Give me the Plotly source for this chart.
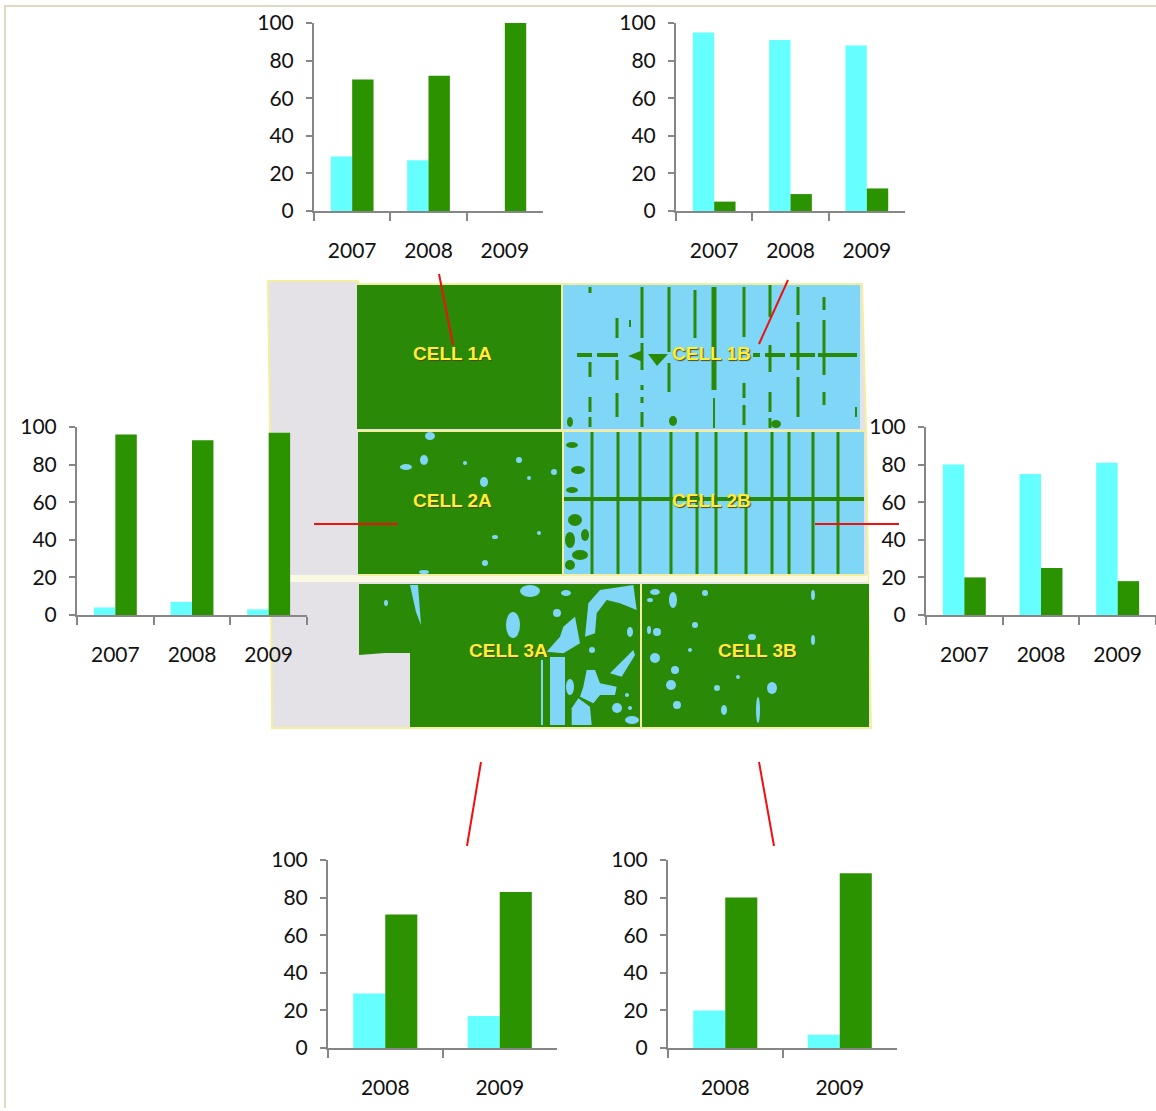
import plotly.graph_objects as go

W, H = 1156, 1111

years3 = ["2007", "2008", "2009"]
years2 = ["2008", "2009"]
tick_vals = [0, 20, 40, 60, 80, 100]

c1a_water = [29, 27, 0]
c1a_veg = [70, 72, 100]
c1b_water = [95, 91, 88]
c1b_veg = [5, 9, 12]
c2a_water = [4, 7, 3]
c2a_veg = [96, 93, 97]
c2b_water = [80, 75, 81]
c2b_veg = [20, 25, 18]
c3a_water = [29, 17]
c3a_veg = [71, 83]
c3b_water = [20, 7]
c3b_veg = [80, 93]

CYAN = "#66ffff"
GREEN = "#2b9200"
AXIS = "#868686"
MAP_GREEN = "#2a8a08"
MAP_BLUE = "#80d6f7"
MAP_GRAY = "#e4e2e6"
EDGE = "#f3eea0"
FONT = "Lato, Carlito, sans-serif"


def px(x):
    return x / W


def py(y):
    return 1 - y / H


panels = [
    (years3, c1a_water, c1a_veg, 314, 543, 23, 211),
    (years3, c1b_water, c1b_veg, 676, 905, 23, 211),
    (years3, c2a_water, c2a_veg, 77, 307, 427, 615),
    (years3, c2b_water, c2b_veg, 926, 1156, 427, 615),
    (years2, c3a_water, c3a_veg, 328, 557, 860, 1048),
    (years2, c3b_water, c3b_veg, 668, 897, 860, 1048),
]

fig = go.Figure()
layout = dict(
    width=W, height=H, margin=dict(l=0, r=0, t=0, b=0, pad=0, autoexpand=False),
    paper_bgcolor="white", plot_bgcolor="rgba(0,0,0,0)", showlegend=False,
    bargap=0.44, bargroupgap=0, barmode="group",
    font=dict(family=FONT, size=21, color="#111111"),
)
for i, (cats, water, veg, x0, x1, y0, y1) in enumerate(panels, start=1):
    xa, ya = f"x{i}", f"y{i}"
    fig.add_trace(go.Bar(x=cats, y=water, name="Water", marker=dict(color=CYAN, line_width=0), xaxis=xa, yaxis=ya))
    fig.add_trace(go.Bar(x=cats, y=veg, name="Vegetation", marker=dict(color=GREEN, line_width=0), xaxis=xa, yaxis=ya))
    layout[f"xaxis{i}"] = dict(
        domain=[px(x0), px(x1)], anchor=ya, type="category", tickson="boundaries",
        ticks="outside", ticklen=8, tickcolor=AXIS, tickwidth=2, showline=True,
        linecolor=AXIS, linewidth=2, showgrid=False, zeroline=False,
        ticklabelstandoff=20, tickfont=dict(family=FONT, size=21, color="#111111"),
    )
    layout[f"yaxis{i}"] = dict(
        domain=[py(y1), py(y0)], anchor=xa, range=[0, 100], tickvals=tick_vals,
        ticks="outside", ticklen=6, tickcolor=AXIS, tickwidth=2, showline=True,
        linecolor=AXIS, linewidth=2, showgrid=False, zeroline=False,
        ticklabelstandoff=8, tickfont=dict(family=FONT, size=21, color="#111111"),
    )

shapes = []


def rect(x0, y0, x1, y1, color, layer="below"):
    shapes.append(dict(type="rect", xref="paper", yref="paper", x0=px(x0), x1=px(x1),
                       y0=py(y1), y1=py(y0), fillcolor=color, line_width=0, layer=layer))


def poly(points, color, line=None, layer="below"):
    d = "M " + " L ".join(f"{px(x):.5f},{py(y):.5f}" for x, y in points) + " Z"
    shapes.append(dict(type="path", path=d, xref="paper", yref="paper", fillcolor=color,
                       line=dict(width=2 if line else 0, color=line or color), layer=layer))


def blob(x, y, rx, ry, color=MAP_BLUE):
    shapes.append(dict(type="circle", xref="paper", yref="paper", x0=px(x - rx), x1=px(x + rx),
                       y0=py(y + ry), y1=py(y - ry), fillcolor=color, line_width=0, layer="below"))


def line(x0, y0, x1, y1, color, width):
    shapes.append(dict(type="line", xref="paper", yref="paper", x0=px(x0), x1=px(x1),
                       y0=py(y0), y1=py(y1), line=dict(color=color, width=width), layer="above"))


# page frame
rect(5, 5, W, 7, "#ddd9c3")
rect(4, 5, 6, 1108, "#ddd9c3")

# map background
poly([(268, 281), (358, 281), (358, 284), (862, 284), (866, 430), (868, 580), (871, 728),
      (272, 728), (271, 575), (270, 428)], MAP_GRAY, line=EDGE)
rect(272, 575, 868, 582, "#fbf8e4")

# cells
rect(357, 285, 561, 429, MAP_GREEN)
rect(563, 285, 860, 429, MAP_BLUE)
rect(358, 432, 562, 574, MAP_GREEN)
rect(564, 432, 864, 574, MAP_BLUE)
poly([(359, 584), (640, 584), (640, 727), (410, 727), (410, 653), (385, 653), (359, 655)], MAP_GREEN)
rect(642, 584, 869, 727, MAP_GREEN)

# 1B drainage lines
for x, half, segs in [
    (590, 1.5, [(287, 293), (362, 377), (397, 412), (417, 427)]),
    (617, 1.5, [(318, 338), (360, 380), (393, 417)]),
    (630, 1, [(320, 327)]),
    (642, 1.5, [(287, 338), (343, 370), (385, 390), (397, 403), (412, 427)]),
    (669, 1.5, [(287, 352), (363, 392)]),
    (695, 1.5, [(290, 338)]),
    (714, 2.5, [(287, 390)]),
    (714, 1, [(398, 428)]),
    (744, 1.5, [(287, 337), (383, 398), (405, 425)]),
    (770, 1.5, [(285, 317), (345, 372), (392, 412), (418, 428)]),
    (798, 1.5, [(287, 315), (322, 370), (377, 417)]),
    (824, 1.5, [(297, 310), (320, 375), (392, 405)]),
    (856, 1, [(407, 417)]),
]:
    for a, b in segs:
        rect(x - half, a, x + half, b, MAP_GREEN)
for a, b in [(577, 592), (597, 618), (753, 760), (765, 785), (790, 815), (818, 857)]:
    rect(a, 353, b, 357, MAP_GREEN)
poly([(628, 356), (643, 350), (643, 362)], MAP_GREEN)
poly([(648, 354), (668, 354), (657, 366)], MAP_GREEN)
blob(673, 421, 4, 5, MAP_GREEN)
blob(570, 422, 3, 5, MAP_GREEN)
blob(776, 424, 5, 4, MAP_GREEN)

# 2B drainage lines
for x in [592, 618, 640, 671, 697, 716, 746, 772, 789, 813, 838]:
    rect(x - 1.5, 432, x + 1.5, 574, MAP_GREEN)
rect(564, 497, 864, 501, MAP_GREEN)
for x, y, rx, ry in [(572, 445, 6, 3), (578, 470, 7, 4), (572, 490, 6, 3), (575, 520, 7, 6),
                     (570, 540, 5, 8), (580, 555, 8, 5), (570, 565, 5, 5), (585, 535, 4, 6)]:
    blob(x, y, rx, ry, MAP_GREEN)

# 2A ponds
for x, y, rx, ry in [(430, 436, 5, 4), (406, 467, 6, 3), (424, 460, 4, 5), (465, 463, 2, 2),
                     (519, 460, 3, 3), (484, 482, 4, 5), (554, 472, 3, 3), (495, 537, 3, 2),
                     (485, 563, 3, 3), (424, 572, 5, 2), (539, 533, 2, 2), (529, 478, 2, 2)]:
    blob(x, y, rx, ry)


# 3A open water, traced in a 3x crop whose origin is (500, 580)
def crop(points):
    return [(500 + a / 3, 580 + b / 3) for a, b in points]


poly([(410, 585), (418, 585), (421, 625), (416, 612)], MAP_BLUE)
rect(541, 660, 543, 725, MAP_BLUE)
rect(550, 657, 565, 725, MAP_BLUE)
poly(crop([(190, 140), (225, 110), (240, 190), (190, 220), (140, 215), (180, 170)]), MAP_BLUE)
poly(crop([(265, 70), (300, 30), (400, 15), (410, 90), (360, 70), (320, 60), (290, 100),
           (285, 160), (255, 170)]), MAP_BLUE)
poly(crop([(330, 280), (400, 210), (405, 225), (365, 290)]), MAP_BLUE)
poly(crop([(260, 270), (285, 270), (300, 310), (350, 320), (345, 345), (300, 345), (280, 370),
           (240, 350), (250, 320)]), MAP_BLUE)
poly(crop([(235, 355), (270, 380), (275, 435), (215, 435), (215, 385)]), MAP_BLUE)
for x, y, rx, ry in [(530, 591, 10, 6), (513, 625, 7, 13), (557, 613, 4, 4), (566, 593, 5, 3),
                     (592, 650, 3, 3), (630, 632, 3, 5), (570, 687, 4, 8), (617, 708, 5, 5),
                     (630, 708, 2, 2), (627, 695, 2, 2), (632, 720, 7, 4), (386, 603, 2, 3)]:
    blob(x, y, rx, ry)

# 3B ponds
for x, y, rx, ry in [(673, 600, 4, 8), (655, 592, 5, 3), (655, 658, 5, 5), (675, 670, 4, 4),
                     (671, 685, 5, 5), (724, 710, 3, 5), (772, 688, 5, 6), (677, 705, 4, 4),
                     (705, 593, 3, 3), (649, 630, 2, 4), (657, 632, 4, 4), (695, 625, 3, 3),
                     (752, 637, 4, 3), (813, 595, 2, 5), (758, 710, 2, 13), (738, 677, 2, 2),
                     (813, 640, 2, 5), (717, 688, 3, 3), (650, 600, 3, 2), (690, 650, 2, 2)]:
    blob(x, y, rx, ry)

# cell boundaries
rect(561, 283, 563, 430, EDGE)
rect(357, 430, 866, 432, EDGE)
rect(562, 432, 564, 575, EDGE)
rect(640, 584, 642, 727, EDGE)
rect(358, 574, 866, 576, EDGE)

# leader lines
for a in [(439, 274, 453, 345), (788, 280, 759, 344), (314, 524, 398, 524),
          (815, 524, 899, 524), (481, 762, 467, 846), (759, 762, 774, 846)]:
    line(*a, "#f01010", 2)

layout["shapes"] = shapes
layout["annotations"] = [
    dict(text=t, x=px(x), y=py(y), xref="paper", yref="paper", showarrow=False,
         xanchor="center", yanchor="middle",
         font=dict(family="Liberation Sans, sans-serif", size=19,
                   color="#ffee33", weight="bold", shadow="1px 1px 1px #4a4a20"))
    for t, x, y in [("CELL 1A", 452, 353), ("CELL 1B", 711, 353), ("CELL 2A", 452, 500),
                    ("CELL 2B", 711, 500), ("CELL 3A", 509, 650), ("CELL 3B", 757, 650)]
]
fig.update_layout(**layout)
fig.write_html("out.html", post_script="document.body.style.margin='0';",
               config=dict(displayModeBar=False))
